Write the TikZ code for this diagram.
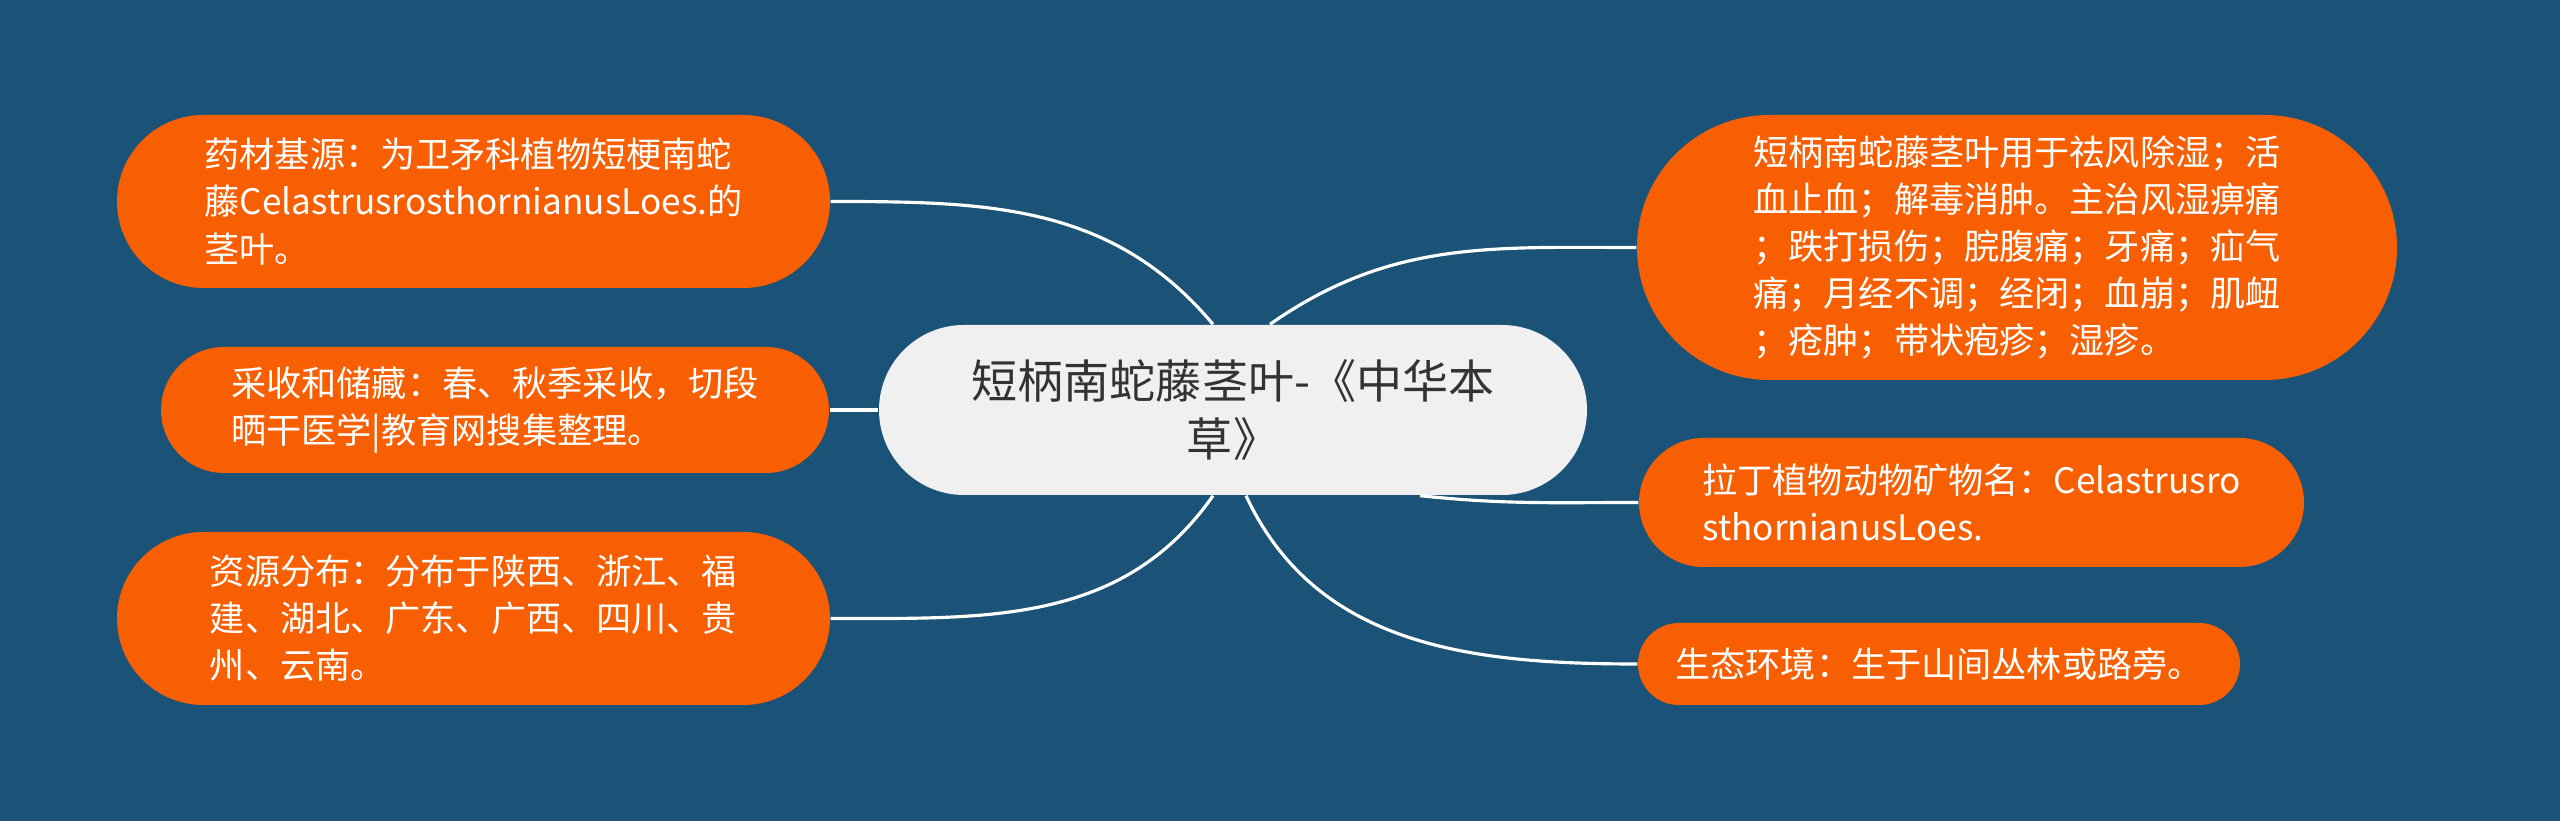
\documentclass[tikz,border=0pt]{standalone}
\usepackage{fontspec}
\setmainfont{Noto Sans CJK SC}
\usetikzlibrary{shapes.misc, calc}

\definecolor{bgblue}{HTML}{1A5377}
\definecolor{leaforange}{HTML}{F85E02}
\definecolor{rootgray}{HTML}{F0F0F0}
\definecolor{roottext}{HTML}{333333}

\tikzset{
  rootbox/.style={rounded rectangle, fill=rootgray, text=roottext, align=center, inner sep=0pt,
    font=\fontsize{13.1pt}{16.5pt}\selectfont},
  leafbox/.style={rounded rectangle, fill=leaforange, text=white, align=left, inner sep=0pt,
    font=\fontsize{10pt}{13.4pt}\selectfont},
  branch/.style={draw=white, line width=0.9pt}
}

\begin{document}
\begin{tikzpicture}
        \fill[bgblue] (0, 0) rectangle (25.60, -8.21);
        \useasboundingbox (0, 0) rectangle (25.60, -8.21);

        % centre
        \node (root) [rootbox, minimum width=7.08cm, minimum height=1.70cm] at (12.33, -4.10) {短柄南蛇藤茎叶-《中华本\\草》};

        % left side
        \node (source) [leafbox, minimum width=7.13cm, minimum height=1.73cm] at (4.735, -2.015) {药材基源：为卫矛科植物短梗南蛇\\藤CelastrusrosthornianusLoes.的\\茎叶。};
        \node (harvest) [leafbox, minimum width=6.68cm, minimum height=1.26cm] at (4.95, -4.10) {采收和储藏：春、秋季采收，切段\\晒干医学|教育网搜集整理。};
        \node (distrib) [leafbox, minimum width=7.13cm, minimum height=1.73cm] at (4.735, -6.185) {资源分布：分布于陕西、浙江、福\\建、湖北、广东、广西、四川、贵\\州、云南。};

        % right side
        \node (usage) [leafbox, minimum width=7.60cm, minimum height=2.65cm] at (20.17, -2.475) {短柄南蛇藤茎叶用于祛风除湿；活\\血止血；解毒消肿。主治风湿痹痛\\；跌打损伤；脘腹痛；牙痛；疝气\\痛；月经不调；经闭；血崩；肌衄\\；疮肿；带状疱疹；湿疹。};
        \node (latin) [leafbox, minimum width=6.65cm, minimum height=1.29cm] at (19.715, -5.025) {拉丁植物动物矿物名：Celastrusro\\sthornianusLoes.};
        \node (habitat) [leafbox, minimum width=6.02cm, minimum height=0.82cm] at (19.39, -6.64) {生态环境：生于山间丛林或路旁。};

        \coordinate (rootNW) at ($(root.north)+(-0.20, 0)$);
        \coordinate (rootNE) at ($(root.north)+(0.37, 0)$);
        \coordinate (rootSW) at ($(root.south)+(-0.20, 0)$);
        \coordinate (rootSE) at ($(root.south)+(0.13, 0)$);
        \coordinate (rootSE2) at ($(root.south)+(1.87, 0)$);

        \draw[branch] (source.east) to[out=0, in=130] (rootNW);
        \draw[branch] (harvest.east) -- (root.west);
        \draw[branch] (distrib.east) to[out=0, in=-125] (rootSW);
        \draw[branch] (rootNE) to[out=35, in=180] (usage.west);
        \draw[branch] (rootSE2) to[out=-6, in=180] (latin.west);
        \draw[branch] (rootSE) to[out=-65, in=180] (habitat.west);
    \end{tikzpicture}
\end{document}
